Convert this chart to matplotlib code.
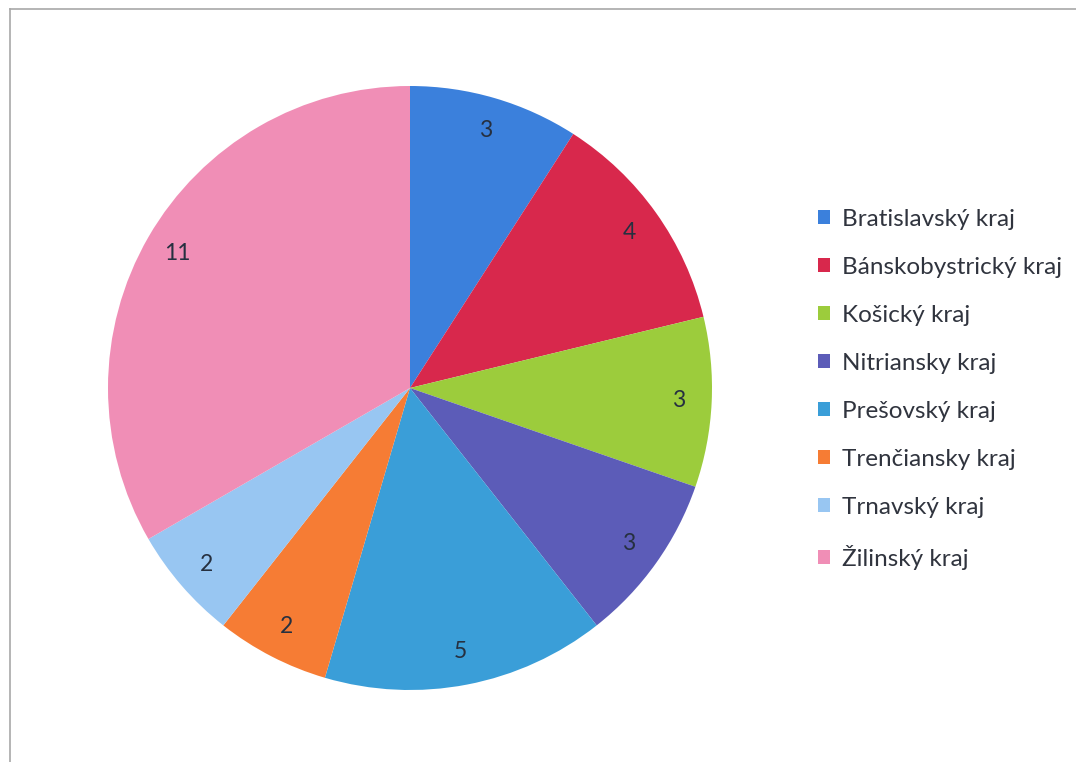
import matplotlib.pyplot as plt
from matplotlib.lines import Line2D
from matplotlib.patches import Patch

# data
regions = ["Bratislavský kraj", "Bánskobystrický kraj", "Košický kraj", "Nitriansky kraj",
           "Prešovský kraj", "Trenčiansky kraj", "Trnavský kraj", "Žilinský kraj"]
counts = [3, 4, 3, 3, 5, 2, 2, 11]
colors = ["#3b80dc", "#d8284c", "#9ccc3c", "#5c5cb8", "#3a9ed8", "#f67c34", "#98c6f2", "#f08eb6"]

plt.rcParams['font.family'] = ['Lato', 'DejaVu Sans']

fig = plt.figure(figsize=(10.76, 7.62), dpi=100)
ax = fig.add_axes([108 / 1076, 72 / 762, 604 / 1076, 604 / 762])

wedges, texts = ax.pie(counts, colors=colors, startangle=90, counterclock=False,
                       labels=[str(c) for c in counts], labeldistance=0.89,
                       textprops={'fontsize': 16.5, 'color': '#263040'})
for t in texts:
    t.set_horizontalalignment('center')
    t.set_verticalalignment('center')
ax.set_aspect('equal')
ax.set_xlim(-1, 1)
ax.set_ylim(-1, 1)

handles = [Patch(facecolor=c, edgecolor='none') for c in colors]
fig.legend(handles, regions, loc='upper left', bbox_to_anchor=(818 / 1076, 1 - 209 / 762),
           frameon=False, fontsize=17.5, labelcolor='#30343e',
           handlelength=0.5, handleheight=0.5, handletextpad=0.5,
           labelspacing=1.11, borderaxespad=0, borderpad=0)

# thin frame around the chart area
fig.add_artist(Line2D([10 / 1076, 1.0], [1 - 9 / 762, 1 - 9 / 762], color='#a8a8a8', lw=1.2))
fig.add_artist(Line2D([10 / 1076, 10 / 1076], [0, 1 - 9 / 762], color='#a8a8a8', lw=1.2))

plt.savefig('out.png', dpi=100)
